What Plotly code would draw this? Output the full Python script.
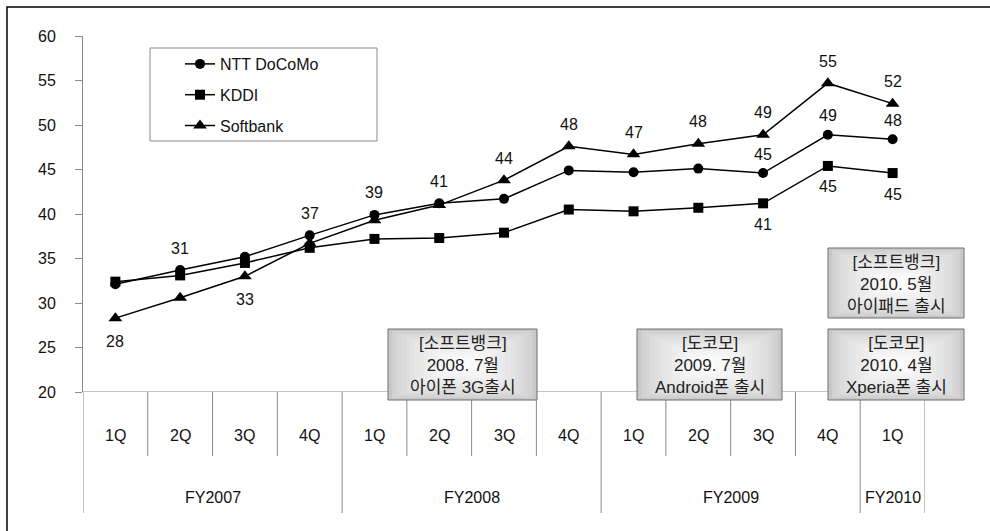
import plotly.graph_objects as go

# ---------------- data ----------------
fiscal_years = ["FY2007"] * 4 + ["FY2008"] * 4 + ["FY2009"] * 4 + ["FY2010"]
quarters = ["1Q", "2Q", "3Q", "4Q"] * 3 + ["1Q"]
docomo = [32.1, 33.7, 35.2, 37.6, 39.9, 41.2, 41.7, 44.9, 44.7, 45.1, 44.6, 48.9, 48.4]
kddi = [32.4, 33.1, 34.5, 36.2, 37.2, 37.3, 37.9, 40.5, 40.3, 40.7, 41.2, 45.4, 44.6]
softbank = [28.3, 30.6, 33.0, 36.7, 39.3, 41.0, 43.8, 47.6, 46.7, 47.9, 48.9, 54.7, 52.4]
series_names = ["NTT DoCoMo", "KDDI", "Softbank"]

y_ticks = [20, 25, 30, 35, 40, 45, 50, 55, 60]

event_texts = [
    "[소프트뱅크]<br>2008. 7월<br>아이폰 3G출시",
    "[도코모]<br>2009. 7월<br>Android폰 출시",
    "[도코모]<br>2010. 4월<br>Xperia폰 출시",
    "[소프트뱅크]<br>2010. 5월<br>아이패드 출시",
]

# ---------------- layout constants (pixels) ----------------
W, H = 990, 531
L, R, T, B = 83, 65, 36, 139
PW, PH = W - L - R, H - T - B

def pxx(px):
    return (px - L) / PW

def pxy(py):
    return (T + PH - py) / PH

cats = [f"{fy} {q}" for fy, q in zip(fiscal_years, quarters)]
n = len(cats)

FONT = "Liberation Sans, Noto Sans CJK KR, sans-serif"
GRAY = "#8a8a8a"

fig = go.Figure()

markers = [("circle", 10), ("square", 10), ("triangle-up", 12)]
for i, (name, vals) in enumerate(zip(series_names, [docomo, kddi, softbank])):
    sym, sz = markers[i]
    fig.add_trace(go.Scatter(
        x=cats, y=vals, name=name, mode="lines+markers",
        line=dict(color="black", width=1.5),
        marker=dict(symbol=sym, size=sz, color="black"),
        legendgroup=name,
        hoverinfo="skip",
    ))

shapes = []
annotations = []

# outer frame (cropped at right/bottom)
shapes.append(dict(type="rect", xref="paper", yref="paper",
                   x0=pxx(7), x1=pxx(1010), y0=pxy(560), y1=pxy(7),
                   line=dict(color="black", width=1.5), fillcolor="rgba(0,0,0,0)"))

# x-axis baseline at y=20
shapes.append(dict(type="line", xref="x", yref="y", x0=-0.5, x1=n - 0.5,
                   y0=y_ticks[0], y1=y_ticks[0], line=dict(color=GRAY, width=1)))

# category dividers
year_bounds = [0] + [i for i in range(1, n) if fiscal_years[i] != fiscal_years[i - 1]] + [n]
for b in range(n + 1):
    bottom = pxy(513) if b in year_bounds else pxy(456)
    shapes.append(dict(type="line", xref="x", yref="paper", x0=b - 0.5, x1=b - 0.5,
                       y0=0, y1=bottom, line=dict(color=GRAY, width=1)))

# quarter labels
for c, q in zip(cats, quarters):
    annotations.append(dict(x=c, y=pxy(435), xref="x", yref="paper", text=q,
                            xanchor="center", yanchor="middle",
                            showarrow=False, font=dict(size=16, color="#111", family=FONT)))
# year labels
for a, b in zip(year_bounds[:-1], year_bounds[1:]):
    annotations.append(dict(x=(a + b - 1) / 2, y=pxy(497), xref="x", yref="paper",
                            text=fiscal_years[a], showarrow=False,
                            xanchor="center", yanchor="middle",
                            font=dict(size=16, color="#111", family=FONT)))

# data labels
lab_font = dict(size=16, color="#111", family=FONT)
sb_below = {0, 2}
for i in range(n):
    if i in sb_below:
        y = min(docomo[i], kddi[i], softbank[i]); ys = -23
    else:
        y = max(docomo[i], kddi[i], softbank[i]); ys = 22
    annotations.append(dict(x=cats[i], y=y, xref="x", yref="y", text=str(round(softbank[i])),
                            showarrow=False, yshift=ys, font=lab_font))
for i in [10, 11, 12]:
    annotations.append(dict(x=cats[i], y=docomo[i], xref="x", yref="y", text=str(round(docomo[i])),
                            showarrow=False, yshift=19, font=lab_font))
    annotations.append(dict(x=cats[i], y=kddi[i], xref="x", yref="y", text=str(round(kddi[i])),
                            showarrow=False, yshift=-21, font=lab_font))

# legend frame
shapes.append(dict(type="rect", xref="paper", yref="paper",
                   x0=pxx(150), x1=pxx(377), y0=pxy(141), y1=pxy(48),
                   line=dict(color=GRAY, width=1), fillcolor="white", layer="below"))

# event callout boxes with faux radial gradient
box_px = [(388, 537, 329, 400), (637, 782, 329, 400), (828, 964, 329, 400), (828, 964, 248, 318)]
N = 16
outer = (200, 200, 200)
inner = (255, 255, 255)
for (x0, x1, y0, y1), txt in zip(box_px, event_texts):
    cx, cy = (x0 + x1) / 2, (y0 + y1) / 2
    hw, hh = (x1 - x0) / 2, (y1 - y0) / 2
    for k in range(N):
        f = k / N
        t = f ** 0.6
        col = tuple(int(o + (iv - o) * t) for o, iv in zip(outer, inner))
        sx = hw * (1 - f * 0.95)
        sy = hh * (1 - f * 0.95)
        shapes.append(dict(type="rect", xref="paper", yref="paper",
                           x0=pxx(cx - sx), x1=pxx(cx + sx), y0=pxy(cy + sy), y1=pxy(cy - sy),
                           line=dict(width=0), fillcolor="rgb(%d,%d,%d)" % col))
    shapes.append(dict(type="rect", xref="paper", yref="paper",
                       x0=pxx(x0), x1=pxx(x1), y0=pxy(y1), y1=pxy(y0),
                       line=dict(color="#6e6e6e", width=1), fillcolor="rgba(0,0,0,0)"))
    annotations.append(dict(x=pxx(cx), y=pxy(cy + 1), xref="paper", yref="paper", text=txt,
                            showarrow=False, align="center", xanchor="center", yanchor="middle",
                            font=dict(size=17, color="#222", family=FONT)))

fig.update_layout(
    width=W, height=H,
    margin=dict(l=L, r=R, t=T, b=B),
    paper_bgcolor="white", plot_bgcolor="white",
    showlegend=True,
    legend=dict(x=pxx(180), y=pxy(47), xanchor="left", yanchor="top",
                bgcolor="rgba(0,0,0,0)", borderwidth=0, tracegroupgap=7,
                font=dict(size=16, color="#111", family=FONT)),
    xaxis=dict(type="category", categoryorder="array", categoryarray=cats,
               range=[-0.5, n - 0.5], showticklabels=False, showgrid=False,
               zeroline=False, showline=False, ticks=""),
    yaxis=dict(range=[y_ticks[0], y_ticks[-1]], tickvals=y_ticks, ticks="outside",
               ticklen=7, tickcolor=GRAY, showline=True, linecolor=GRAY, linewidth=1,
               showgrid=False, zeroline=False, ticklabelstandoff=16,
               tickfont=dict(size=16, color="#111", family=FONT)),
    shapes=shapes,
    annotations=annotations,
)

fig.write_html("out.html")
